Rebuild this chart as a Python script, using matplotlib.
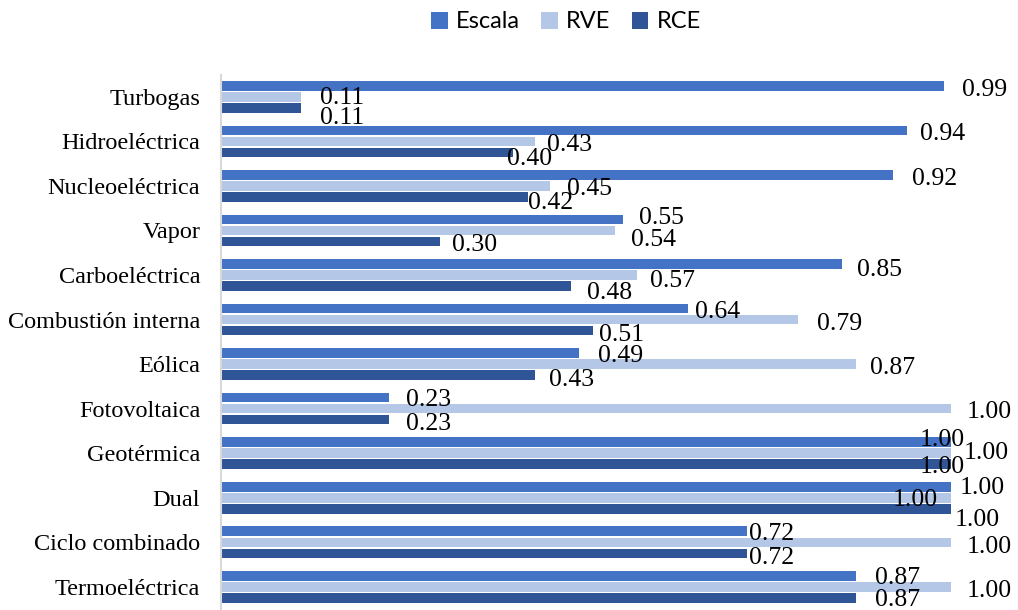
import matplotlib
matplotlib.use("Agg")
import matplotlib.pyplot as plt
import numpy as np

# Technologies, top to bottom
categories = ["Turbogas", "Hidroeléctrica", "Nucleoeléctrica", "Vapor",
              "Carboeléctrica", "Combustión interna", "Eólica", "Fotovoltaica",
              "Geotérmica", "Dual", "Ciclo combinado", "Termoeléctrica"]

escala = [0.99, 0.94, 0.92, 0.55, 0.85, 0.64, 0.49, 0.23, 1.00, 1.00, 0.72, 0.87]
rve    = [0.11, 0.43, 0.45, 0.54, 0.57, 0.79, 0.87, 1.00, 1.00, 1.00, 1.00, 1.00]
rce    = [0.11, 0.40, 0.42, 0.30, 0.48, 0.51, 0.43, 0.23, 1.00, 1.00, 0.72, 0.87]

series_names = ["Escala", "RVE", "RCE"]
colors = ["#4472C4", "#B4C7E7", "#2F5597"]

# Label offsets (pixels) from the bar end: (dx to label left edge, dy downward)
off_escala = [(18, 2), (13, 1), (19, 2), (17, -4), (15, 3), (7, 1), (19, 0),
              (17, 0), (-31, -5), (9, -1), (2, 0), (19, 0)]
off_rve = [(19, -1), (12, 1), (17, 1), (16, 7), (13, 3), (19, 2), (14, 1),
           (16, 1), (13, -3), (-58, 0), (16, 2), (16, 2)]
off_rce = [(19, 8), (-6, 4), (0, 4), (12, 1), (16, 4), (6, 2), (14, 2),
           (17, 2), (-31, 0), (4, 9), (2, 2), (19, 0)]
label_drop = 2.5  # extra downward shift shared by all value labels

W, H = 1018, 610
fig = plt.figure(figsize=(W / 100, H / 100), dpi=100)
ax = fig.add_axes([221 / W, 0, (951 - 221) / W, 1 - 75 / H])

y = np.arange(len(categories))
step = 0.247
bar_h = 0.215
data = [escala, rve, rce]
offsets = [off_escala, off_rve, off_rce]
for k, (vals, name, col, offs) in enumerate(zip(data, series_names, colors, offsets)):
    pos = y + (k - 1) * step
    ax.barh(pos, vals, height=bar_h, color=col, label=name, linewidth=0)
    for v, p, (dx, dy) in zip(vals, pos, offs):
        ax.annotate(f"{v:.2f}", xy=(v, p), xytext=(dx, -(dy + label_drop)),
                    textcoords="offset pixels", ha="left", va="center",
                    fontsize=18.5, family="Liberation Serif", color="black",
                    annotation_clip=False)

ax.set_xlim(0, 1.0)
ax.set_ylim(11.52, -0.49)
ax.set_yticks(y)
ax.set_yticklabels(categories, fontsize=17.5, family="Liberation Serif")
ax.tick_params(axis="y", length=0, pad=15)
ax.set_xticks([])
for s in ["top", "right", "bottom"]:
    ax.spines[s].set_visible(False)
ax.spines["left"].set_color("#D9D9D9")
ax.spines["left"].set_linewidth(1.5)
ax.set_facecolor("none")

handles, labels = ax.get_legend_handles_labels()
fig.legend(handles, labels, loc="center", bbox_to_anchor=(566 / W, 1 - 22 / H),
           ncol=3, frameon=False, handlelength=0.7, handleheight=0.7,
           handletextpad=0.35, columnspacing=0.9,
           prop={"family": "Lato", "size": 17})

fig.savefig("out.png", dpi=100)
